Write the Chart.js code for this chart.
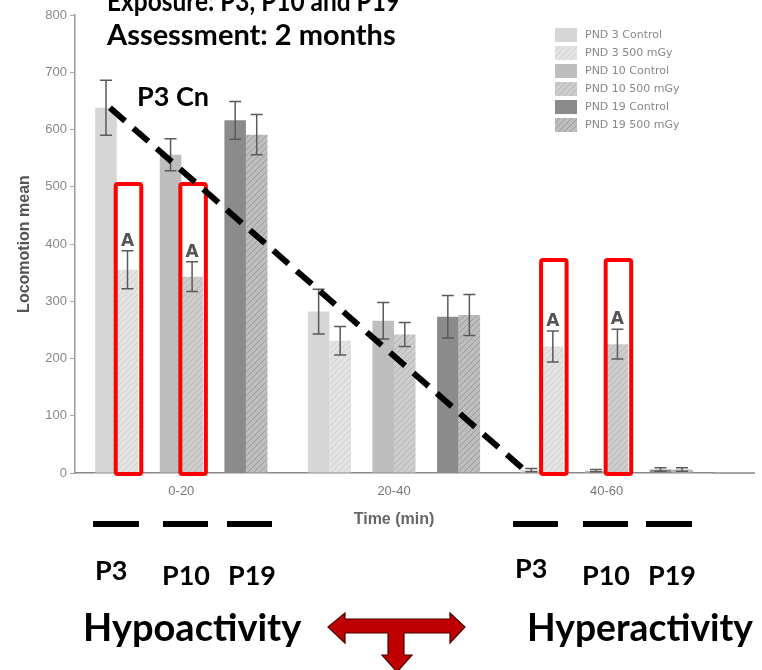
<!DOCTYPE html>
<html>
<head>
<meta charset="utf-8">
<script src="https://cdn.jsdelivr.net/npm/chart.js@4/dist/chart.umd.min.js"></script>
<style>
html, body { margin: 0; padding: 0; background: #fff; }
canvas { display: block; }
</style>
</head>
<body>
<canvas id="locoChart" width="762" height="670"></canvas>
<script>
// time bins and series
var timeBins = ['0-20', '20-40', '40-60'];
var seriesNames = ['PND 3 Control', 'PND 3 500 mGy', 'PND 10 Control', 'PND 10 500 mGy', 'PND 19 Control', 'PND 19 500 mGy'];
var yTicks = [0, 100, 200, 300, 400, 500, 600, 700, 800];

// locomotion means
var p3Control = [638, 282, 5];
var p3Irr = [355, 231, 221];
var p10Control = [556, 266, 4];
var p10Irr = [343, 242, 225];
var p19Control = [616, 273, 6];
var p19Irr = [591, 276, 6];

// error bars (+/-)
var p3ControlErr = [48, 39, 3];
var p3IrrErr = [33, 25, 27];
var p10ControlErr = [28, 32, 2];
var p10IrrErr = [26, 21, 26];
var p19ControlErr = [33, 37, 3];
var p19IrrErr = [35, 36, 3];

// significance letters and highlighted bars
var p3IrrSig = ['A', '', 'A'];
var p10IrrSig = ['A', '', 'A'];
var highlightTop = [505, null, 372];

var canvas = document.getElementById('locoChart');
var ctx = canvas.getContext('2d');

function hatch(bg, fg) {
    var c = document.createElement('canvas');
    c.width = 6; c.height = 6;
    var g = c.getContext('2d');
    g.fillStyle = bg;
    g.fillRect(0, 0, 6, 6);
    g.strokeStyle = fg;
    g.lineWidth = 1;
    g.beginPath();
    g.moveTo(0, 6); g.lineTo(6, 0);
    g.moveTo(-1, 1); g.lineTo(1, -1);
    g.moveTo(5, 7); g.lineTo(7, 5);
    g.stroke();
    return ctx.createPattern(c, 'repeat');
}

var fills = [
    '#d6d6d6',
    hatch('#e3e3e3', '#d0d0d0'),
    '#bebebe',
    hatch('#cdcdcd', '#b4b4b4'),
    '#8b8b8b',
    hatch('#bdbdbd', '#9c9c9c')
];

function bars(i, values, errs, extra) {
    var ds = {
        label: seriesNames[i],
        data: values,
        backgroundColor: fills[i],
        borderWidth: 0,
        errors: errs,
        barPercentage: 1,
        categoryPercentage: 0.81
    };
    for (var k in extra) ds[k] = extra[k];
    return ds;
}

function spacer() {
    return { label: '', data: [null, null, null], spacer: true, barPercentage: 1, categoryPercentage: 0.81 };
}

var datasets = [
    bars(0, p3Control, p3ControlErr, { trend: true }),
    bars(1, p3Irr, p3IrrErr, { sig: p3IrrSig, box: highlightTop }),
    spacer(),
    bars(2, p10Control, p10ControlErr, {}),
    bars(3, p10Irr, p10IrrErr, { sig: p10IrrSig, box: highlightTop }),
    spacer(),
    bars(4, p19Control, p19ControlErr, {}),
    bars(5, p19Irr, p19IrrErr, {})
];

var extras = {
    id: 'extras',
    afterDatasetsDraw: function (chart) {
        var c = chart.ctx, y = chart.scales.y;
        c.save();
        // error bars and letters
        chart.data.datasets.forEach(function (ds, di) {
            if (ds.spacer) return;
            var meta = chart.getDatasetMeta(di);
            meta.data.forEach(function (bar, j) {
                var v = ds.data[j], e = ds.errors[j];
                var top = y.getPixelForValue(v + e), bot = y.getPixelForValue(Math.max(0, v - e));
                c.strokeStyle = '#5a5a5a';
                c.lineWidth = 1.5;
                c.beginPath();
                c.moveTo(bar.x, top); c.lineTo(bar.x, bot);
                c.moveTo(bar.x - 6, top); c.lineTo(bar.x + 6, top);
                c.moveTo(bar.x - 6, bot); c.lineTo(bar.x + 6, bot);
                c.stroke();
                if (ds.sig && ds.sig[j]) {
                    c.fillStyle = '#555';
                    c.font = 'bold 17px "DejaVu Sans"';
                    c.textAlign = 'center';
                    c.textBaseline = 'alphabetic';
                    c.fillText(ds.sig[j], bar.x, top - 5);
                }
            });
        });
        // red highlight boxes
        chart.data.datasets.forEach(function (ds, di) {
            if (!ds.box) return;
            var meta = chart.getDatasetMeta(di);
            meta.data.forEach(function (bar, j) {
                if (ds.box[j] == null) return;
                var half = bar.width / 2 + 2;
                var t = y.getPixelForValue(ds.box[j]);
                c.strokeStyle = '#ff0000';
                c.lineWidth = 4;
                c.beginPath();
                c.roundRect(bar.x - half + 1, t, half * 2, y.getPixelForValue(0) + 1 - t, 2);
                c.stroke();
            });
        });
        // dashed trend line across P3 control bars
        chart.data.datasets.forEach(function (ds, di) {
            if (!ds.trend) return;
            var pts = chart.getDatasetMeta(di).data;
            var a = pts[0], b = pts[pts.length - 1];
            c.strokeStyle = '#000';
            c.lineWidth = 6;
            c.setLineDash([20, 11]);
            c.beginPath();
            c.moveTo(a.x + 4, a.y);
            c.lineTo(b.x - 9, b.y - 2);
            c.stroke();
            c.setLineDash([]);
        });
        // legend
        var lx = 555, ly = 35;
        chart.data.datasets.filter(function (d) { return !d.spacer; }).forEach(function (ds, i) {
            c.fillStyle = ds.backgroundColor;
            c.fillRect(lx, ly + i * 18 - 7, 22, 14);
            c.fillStyle = '#888';
            c.font = '11px "DejaVu Sans"';
            c.textAlign = 'left';
            c.textBaseline = 'middle';
            c.fillText(ds.label, lx + 30, ly + i * 18, 118);
        });
        c.restore();
    },
    afterDraw: function (chart) {
        var c = chart.ctx;
        c.save();
        // extend x axis line
        c.strokeStyle = '#888';
        c.lineWidth = 1.5;
        c.beginPath();
        c.moveTo(chart.chartArea.right, chart.chartArea.bottom);
        c.lineTo(755, chart.chartArea.bottom);
        c.stroke();

        c.fillStyle = '#000';
        c.textBaseline = 'alphabetic';
        c.textAlign = 'left';
        c.font = 'bold 29px Lato';
        c.fillText('Exposure: P3, P10 and P19', 107, 11, 293);
        c.fillText('Assessment: 2 months', 107, 45, 295);
        c.font = 'bold 27px Lato';
        c.fillText('P3 Cn', 137, 106);

        // group dashes
        c.fillRect(93, 521, 46, 6);
        c.fillRect(163, 521, 45, 6);
        c.fillRect(227, 521, 45, 6);
        c.fillRect(513, 521, 45, 6);
        c.fillRect(583, 521, 45, 6);
        c.fillRect(646, 521, 46, 6);

        c.font = 'bold 27px Lato';
        c.fillText('P3', 95, 580);
        c.fillText('P10', 162, 585);
        c.fillText('P19', 228, 585);
        c.fillText('P3', 515, 578);
        c.fillText('P10', 582, 585);
        c.fillText('P19', 648, 585);

        c.font = 'bold 38px Lato';
        c.fillText('Hypoactivity', 83, 641);
        c.fillText('Hyperactivity', 527, 641, 226);

        // T arrow
        c.fillStyle = '#c00000';
        c.strokeStyle = '#4a0000';
        c.lineWidth = 1.2;
        c.beginPath();
        c.moveTo(328, 627);
        c.lineTo(345, 613);
        c.lineTo(345, 619);
        c.lineTo(450, 619);
        c.lineTo(450, 613);
        c.lineTo(465, 627);
        c.lineTo(450, 643);
        c.lineTo(450, 633);
        c.lineTo(404, 633);
        c.lineTo(404, 655);
        c.lineTo(412, 655);
        c.lineTo(397, 672);
        c.lineTo(382, 655);
        c.lineTo(388, 655);
        c.lineTo(388, 633);
        c.lineTo(345, 633);
        c.lineTo(345, 643);
        c.closePath();
        c.fill();
        c.stroke();
        c.restore();
    }
};

new Chart(ctx, {
    type: 'bar',
    data: { labels: timeBins, datasets: datasets },
    options: {
        responsive: false,
        animation: false,
        layout: { padding: { top: 15, right: 49, bottom: 141, left: 0 } },
        plugins: { legend: { display: false }, tooltip: { enabled: false } },
        scales: {
            x: {
                afterFit: function (s) { s.height = 56; },
                ticks: { color: '#777', font: { size: 13, family: 'Liberation Sans' }, padding: 11 },
                grid: { drawOnChartArea: false, drawTicks: false },
                border: { color: '#888', width: 1.5 },
                title: { display: true, text: 'Time (min)', color: '#666', font: { size: 16, weight: 'bold', family: 'Liberation Sans' }, padding: { top: 0, bottom: 0 } }
            },
            y: {
                min: 0,
                max: 800,
                afterBuildTicks: function (s) { s.ticks = yTicks.map(function (v) { return { value: v }; }); },
                afterFit: function (s) { s.width = 75; },
                ticks: { color: '#888', font: { size: 13, family: 'Liberation Sans' }, padding: 3 },
                grid: { drawOnChartArea: false, tickLength: 5, color: '#aaa' },
                border: { color: '#999', width: 1.5 },
                title: { display: true, text: 'Locomotion mean', color: '#555', font: { size: 16, weight: 'bold', family: 'Liberation Sans' }, padding: { top: 15, bottom: 0 } }
            }
        }
    },
    plugins: [extras]
});
</script>
</body>
</html>
